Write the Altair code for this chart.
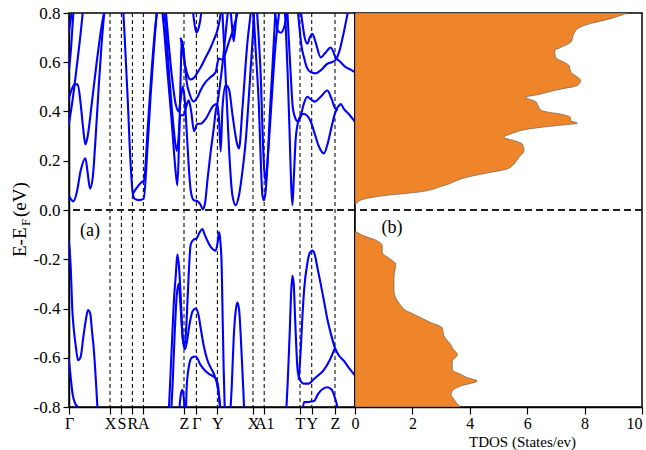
import altair as alt
import pandas as pd

# ---------------- k-path (high-symmetry points) ----------------
sym_k = [68.3, 109.3, 120.7, 131.7, 142.7, 183.3, 195.7, 216.7, 252.3, 263.5, 299.3, 311.0, 334.3]
sym_labels = ["Γ", "X", "S", "R", "A", "Z", "Γ", "Y", "X", "A1", "T", "Y", "Z"]
k_min, k_max = 68.3, 354.3

# ---------------- bands: (k, E-EF in eV) ----------------
c01 = [(68, 0.06), (70, 0.045), (72.7, 0.035), (76, 0.07), (80, 0.16), (84.7, 0.21), (87, 0.15), (89.3, 0.087),
       (92, 0.13), (95, 0.3), (98, 0.5), (101, 0.68), (103.5, 0.8), (104.5, 0.85)]
c02 = [(68, 0.45), (71, 0.49), (74, 0.51), (77, 0.51), (80, 0.43), (82.5, 0.33), (84.7, 0.266), (87, 0.3),
       (91, 0.43), (96, 0.6), (101, 0.75), (104.5, 0.83), (105.5, 0.86)]
c03 = [(68, 0.344), (72, 0.45), (76, 0.58), (80, 0.72), (82, 0.8), (83, 0.84)]
c04 = [(68, 0.56), (70, 0.64), (72.7, 0.8), (73.5, 0.84)]
c05 = [(68, 0.716), (69.5, 0.76), (70.8, 0.8), (71.5, 0.83)]
c06 = [(122, 0.85), (124, 0.7), (127, 0.45), (130, 0.18), (132, 0.07), (134, 0.045), (138, 0.04), (143, 0.045),
       (146, 0.2), (150, 0.47), (154, 0.7), (157, 0.85)]
c07 = [(132, 0.065), (136, 0.09), (140, 0.11), (143.3, 0.12), (147, 0.33), (151, 0.57), (155, 0.76), (158.5, 0.86)]
c08 = [(160, 0.86), (163, 0.75), (167, 0.55), (171, 0.36), (174, 0.2), (176.7, 0.1), (178.5, 0.3), (180, 0.55),
       (181, 0.69), (182.5, 0.66), (184, 0.6), (186, 0.52), (189, 0.47), (193, 0.44), (197, 0.46), (200, 0.487),
       (205, 0.52), (210, 0.54), (215, 0.56), (218, 0.615), (221.7, 0.61), (225, 0.64), (228, 0.68), (233, 0.74),
       (236.7, 0.8), (238, 0.83)]
c09 = [(162, 0.86), (165, 0.74), (169, 0.52), (173, 0.33), (176, 0.24), (178, 0.3), (179.5, 0.385), (183, 0.385),
       (185.5, 0.42), (188, 0.445), (190.5, 0.4), (193.3, 0.32), (196.7, 0.35), (200, 0.35), (205, 0.37),
       (213, 0.425), (216.7, 0.43), (218.3, 0.37), (220, 0.237), (221.7, 0.41), (225, 0.507), (228.3, 0.49),
       (232, 0.38), (236.7, 0.263), (238.3, 0.25), (241.7, 0.41), (246.7, 0.68), (250, 0.8), (251, 0.84)]
c10 = [(164, 0.86), (167, 0.72), (171, 0.55), (175, 0.43), (178, 0.4), (180, 0.45), (182, 0.5), (184, 0.45),
       (186, 0.32), (188, 0.18), (190, 0.08), (193, 0.04), (197, 0.035), (200, 0.02), (202, 0.003), (204, 0.02),
       (207, 0.13), (210, 0.237), (213, 0.33), (215, 0.4), (217, 0.44), (219, 0.5), (222, 0.6), (225, 0.72),
       (227, 0.8), (228, 0.84)]
c11 = [(191, 0.86), (193, 0.78), (195.7, 0.72), (198, 0.74), (200.5, 0.8), (201.5, 0.85)]
c12 = [(180, 0.7), (183, 0.62), (186, 0.56), (190, 0.53), (194, 0.54), (197, 0.56), (200, 0.58), (205, 0.62),
       (210, 0.66), (213, 0.69), (216.7, 0.73), (220, 0.8), (221, 0.84)]
c13 = [(229, 0.86), (231, 0.76), (233, 0.685), (235, 0.76), (237, 0.86)]
c14 = [(221, 0.86), (223, 0.7), (226, 0.45), (229, 0.2), (231.7, 0.06), (235, 0.02), (238.3, 0.06), (241.5, 0.15),
       (245, 0.28), (248, 0.45), (250, 0.575), (252, 0.7), (253.5, 0.82), (254.5, 0.86)]
c15 = [(252, 0.86), (255, 0.65), (258.3, 0.41), (260.5, 0.15), (261.7, 0.06), (263.3, 0.04), (265, 0.08),
       (266.7, 0.18), (269, 0.38), (271.7, 0.575), (274, 0.75), (275.5, 0.86)]
c16 = [(255.5, 0.86), (258, 0.7), (260, 0.55), (262, 0.3), (263.3, 0.18), (265, 0.115), (266.5, 0.18),
       (268.3, 0.28), (271, 0.45), (275, 0.68), (278.3, 0.8), (279.5, 0.86)]
c17 = [(283, 0.86), (285, 0.75), (287, 0.55), (289, 0.3), (290.5, 0.1), (291.7, 0.02), (293, 0.12), (295, 0.29),
       (297, 0.35), (300, 0.38), (303, 0.43), (306.7, 0.46), (310, 0.45), (314, 0.44), (320, 0.46), (326.7, 0.485),
       (331, 0.45), (335, 0.41), (340, 0.43), (343.3, 0.41), (348, 0.39), (354, 0.36)]
c18 = [(286, 0.86), (288, 0.7), (290, 0.55), (292, 0.42), (294, 0.38), (297, 0.36), (300, 0.385), (303, 0.39),
       (306, 0.385), (310, 0.36), (314, 0.31), (318, 0.26), (323.3, 0.23), (327, 0.27), (331, 0.34), (335, 0.4),
       (337, 0.41)]
c19 = [(298, 0.86), (301, 0.78), (304, 0.7), (306.7, 0.675), (309, 0.7), (311.7, 0.716), (315, 0.68), (320, 0.62),
       (325, 0.64), (330, 0.66), (335, 0.62), (340, 0.6), (345, 0.58), (350, 0.57), (354, 0.56)]
c20 = [(296, 0.86), (298.5, 0.75), (301, 0.66), (303.3, 0.62), (306, 0.58), (310, 0.56), (315, 0.555),
       (320, 0.567), (326.7, 0.594), (331, 0.6), (335, 0.61), (339, 0.65), (343, 0.72), (347, 0.8), (349, 0.84)]
c21 = [(272, 0.86), (275, 0.78), (277, 0.73), (280, 0.72), (284, 0.75), (287, 0.82), (288, 0.86)]

v01 = [(68, -0.125), (69, -0.16), (70, -0.233), (71.7, -0.41), (73, -0.48), (75, -0.55), (77.3, -0.61),
       (80, -0.595), (82.5, -0.52), (85, -0.45), (87.3, -0.406), (89.5, -0.42), (91.5, -0.5), (93, -0.56),
       (95, -0.68), (96.7, -0.8), (97.5, -0.85)]
v02 = [(68, -0.6), (70, -0.68), (72, -0.75), (75, -0.79), (77, -0.8), (79, -0.82)]
v03 = [(167.5, -0.85), (168.3, -0.8), (170, -0.65), (171.7, -0.5), (173.5, -0.35), (175, -0.27), (176.7, -0.18),
       (178.3, -0.23), (180, -0.35), (181.7, -0.5), (183, -0.55), (184.3, -0.565), (186, -0.54), (189, -0.46),
       (192, -0.41), (195, -0.4), (198, -0.43), (200, -0.48), (203, -0.55), (206.7, -0.61), (210, -0.64),
       (213.3, -0.667), (216, -0.7), (219, -0.78), (221, -0.86)]
v04 = [(170, -0.86), (172, -0.7), (174, -0.5), (176, -0.35), (178, -0.3), (180, -0.4), (182, -0.52), (184, -0.55),
       (185.5, -0.48), (187, -0.35), (188.5, -0.22), (190, -0.14), (193, -0.12), (196, -0.115), (199, -0.09),
       (201.7, -0.077), (204, -0.1), (206.7, -0.125), (210, -0.15), (215, -0.165), (217, -0.13), (218.3, -0.09),
       (219.5, -0.12), (221, -0.23), (222, -0.45), (223, -0.65), (224, -0.8), (224.5, -0.86)]
v05 = [(185, -0.86), (186, -0.72), (188, -0.64), (191, -0.6), (195, -0.595), (200, -0.63), (205, -0.655),
       (210, -0.67), (214, -0.68), (216.7, -0.7), (218.5, -0.76), (220, -0.86)]
v06 = [(177.5, -0.86), (179, -0.79), (180.5, -0.74), (181.7, -0.73), (183, -0.76), (184.5, -0.86)]
v07 = [(229, -0.86), (231, -0.72), (233, -0.52), (235, -0.41), (236.7, -0.376), (238.5, -0.41), (240.5, -0.55),
       (242.5, -0.72), (244, -0.86)]
v08 = [(285, -0.86), (287, -0.7), (289, -0.5), (290.5, -0.33), (291.7, -0.267), (293, -0.3), (294.5, -0.45),
       (296.7, -0.64), (298.3, -0.68), (303, -0.705), (308, -0.705), (313, -0.687), (318, -0.67), (323, -0.65),
       (329, -0.61), (334.3, -0.56)]
v09 = [(298, -0.69), (300, -0.57), (301.5, -0.45), (303.5, -0.32), (306.5, -0.22), (309, -0.175), (311.7, -0.165),
       (314, -0.18), (317, -0.24), (320, -0.3), (323.3, -0.37), (327, -0.45), (330, -0.5), (334.3, -0.56),
       (338, -0.59), (343.3, -0.613), (348, -0.64), (354, -0.67)]
v10 = [(301, -0.86), (303.3, -0.78), (306.7, -0.78), (310, -0.778), (313.3, -0.776), (317, -0.75), (321, -0.73),
       (326.7, -0.72), (331, -0.73), (334, -0.76), (336.5, -0.8), (338, -0.86)]

band_list = [c01, c02, c03, c04, c05, c06, c07, c08, c09, c10, c11, c12, c13, c14, c15, c16, c17, c18, c19,
             c20, c21, v01, v02, v03, v04, v05, v06, v07, v08, v09, v10]

# ---------------- TDOS ----------------
dos_E = [-0.8, -0.785, -0.769, -0.75, -0.735, -0.715, -0.694, -0.68, -0.667, -0.655, -0.647, -0.613, -0.6,
         -0.586, -0.565, -0.545, -0.525, -0.511, -0.478, -0.457, -0.43, -0.403, -0.385, -0.369, -0.328, -0.274,
         -0.24, -0.22, -0.2, -0.172, -0.145, -0.122, -0.105, -0.092, -0.084, 0.02, 0.024, 0.04, 0.058, 0.072,
         0.099, 0.133, 0.153, 0.167, 0.187, 0.214, 0.241, 0.268, 0.282, 0.295, 0.309, 0.33, 0.343, 0.352, 0.363,
         0.377, 0.386, 0.404, 0.418, 0.44, 0.458, 0.468, 0.488, 0.506, 0.526, 0.54, 0.56, 0.587, 0.6, 0.62,
         0.648, 0.66, 0.682, 0.716, 0.736, 0.757, 0.777, 0.8]
dos_val = [3.68, 3.55, 3.45, 3.35, 3.39, 3.68, 4.26, 3.9, 3.68, 3.45, 3.39, 3.39, 3.5,
           3.57, 3.42, 3.33, 3.18, 3.1, 3.04, 2.64, 2.17, 1.71, 1.58, 1.48, 1.36, 1.36,
           1.4, 1.42, 1.24, 0.95, 0.95, 0.72, 0.31, 0.1, 0.0, 0.0, 0.03, 0.2, 1.0, 2.17,
           3.1, 3.9, 4.73, 5.31, 5.54, 5.71, 5.89, 5.83, 5.54, 5.19, 5.43, 6.12, 7.05, 7.75, 7.52,
           7.5, 7.3, 6.5, 6.4, 6.3, 5.95, 6.36, 7.05, 7.75, 7.86, 7.75, 7.52, 7.46, 7.28, 6.99,
           6.96, 7.17, 7.52, 7.63, 7.75, 8.21, 8.91, 9.49]

FONT = "Liberation Serif"
BLUE = "#0000FF"
ORANGE = "#EF852B"

rows = []
for i, b in enumerate(band_list):
    for k, e in b:
        rows.append({"band": i, "k": k, "E": e})
band_df = pd.DataFrame(rows)
sym_df = pd.DataFrame({"k": sym_k[1:]})
dos_df = pd.DataFrame({"E": dos_E, "dos": dos_val})

kx = alt.Scale(domain=[k_min, k_max], nice=False, zero=False)
ey = alt.Scale(domain=[-0.8, 0.8], nice=False, zero=False)

k_label_expr = ("[" + ",".join("'%s'" % s for s in sym_labels) + "][indexof(["
                + ",".join(str(v) for v in sym_k) + "], datum.value)]")

left_x_axis = alt.Axis(values=sym_k, labelExpr=k_label_expr, title="", tickSize=7, labelPadding=1,
                       labelFontSize=16, labelFlush=False, labelOverlap=False, labelBound=False)
left_y_axis = alt.Axis(values=[-0.8, -0.6, -0.4, -0.2, 0.0, 0.2, 0.4, 0.6, 0.8],
                       labelExpr="replace(format(datum.value, '.1f'), '\u2212', '-')",
                       title="", tickSize=6, labelPadding=3, labelFontSize=17, labelFlush=False,
                       labelOverlap=False)

vlines = alt.Chart(sym_df).mark_rule(strokeDash=[4, 3], color="#111111", strokeWidth=1.1).encode(
    x=alt.X("k:Q", scale=kx, axis=left_x_axis))
ef_left = alt.Chart(sym_df).mark_rule(strokeDash=[7, 4], color="#222222", strokeWidth=1.3).encode(
    y=alt.datum(0, scale=ey))
lines = alt.Chart(band_df).mark_line(color=BLUE, strokeWidth=2.1, clip=True, interpolate="monotone").encode(
    x=alt.X("k:Q", scale=kx, axis=left_x_axis),
    y=alt.Y("E:Q", scale=ey, axis=left_y_axis),
    detail="band:N")

lbl_a = alt.Chart(pd.DataFrame({"t": ["(a)"]})).mark_text(font=FONT, fontSize=18, align="center",
                                                          baseline="middle").encode(
    text="t:N", x=alt.value(21), y=alt.value(218))
ttl1 = alt.Chart(pd.DataFrame({"t": ["E-E"]})).mark_text(font=FONT, fontSize=19, angle=270, align="left",
                                                         baseline="alphabetic").encode(
    text="t:N", x=alt.value(-43), y=alt.value(244))
ttl2 = alt.Chart(pd.DataFrame({"t": ["F"]})).mark_text(font=FONT, fontSize=13, angle=270, align="left",
                                                       baseline="alphabetic").encode(
    text="t:N", x=alt.value(-39), y=alt.value(213))
ttl3 = alt.Chart(pd.DataFrame({"t": ["(eV)"]})).mark_text(font=FONT, fontSize=19, angle=270, align="left",
                                                          baseline="alphabetic").encode(
    text="t:N", x=alt.value(-43), y=alt.value(204))
# invisible anchor that fixes the chart's top-left corner of the bounds
anchor = alt.Chart(pd.DataFrame({"t": ["."]})).mark_text(opacity=0, align="left", baseline="top",
                                                         fontSize=2).encode(
    text="t:N", x=alt.value(-68), y=alt.value(-12))

left = alt.layer(vlines, ef_left, lines, lbl_a, ttl1, ttl2, ttl3, anchor).properties(width=286, height=394)

area = alt.Chart(dos_df).mark_area(orient="horizontal", color=ORANGE, stroke="#555555", strokeWidth=0.6,
                                   clip=True, interpolate="monotone").encode(
    x=alt.X("dos:Q", scale=alt.Scale(domain=[0, 10], nice=False),
            axis=alt.Axis(values=[0, 2, 4, 6, 8, 10], title="TDOS (States/ev)", tickSize=7, labelPadding=1,
                          labelFontSize=16, titleFontSize=15, titlePadding=3, labelFlush=False,
                          labelOverlap=False, titleX=167, titleAnchor="start", titleAlign="center",
                          labelAlign={"condition": {"test": "datum.value == 10", "value": "right"},
                                      "value": "center"})),
    y=alt.Y("E:Q", scale=ey, axis=None))
ef_right = alt.Chart(dos_df).mark_rule(strokeDash=[7, 4], color="#222222", strokeWidth=1.3).encode(
    y=alt.datum(0, scale=ey))
lbl_b = alt.Chart(pd.DataFrame({"t": ["(b)"]})).mark_text(font=FONT, fontSize=18, align="center",
                                                          baseline="middle").encode(
    text="t:N", x=alt.value(37), y=alt.value(215))

right = alt.layer(area, ef_right, lbl_b).properties(width=287, height=394)

chart = alt.hconcat(left, right, spacing=0, bounds="flush").properties(
    padding={"left": 0, "top": 0, "right": 0, "bottom": 0},
).configure_view(stroke="black", strokeWidth=1.5).configure_axis(
    labelFont=FONT, titleFont=FONT, labelColor="black", titleColor="black", titleFontWeight="normal",
    domainColor="black", domainWidth=1.5, tickColor="black", tickWidth=1.2, grid=False
)

chart.save("out.html", embed_options={"renderer": "svg", "actions": False})
